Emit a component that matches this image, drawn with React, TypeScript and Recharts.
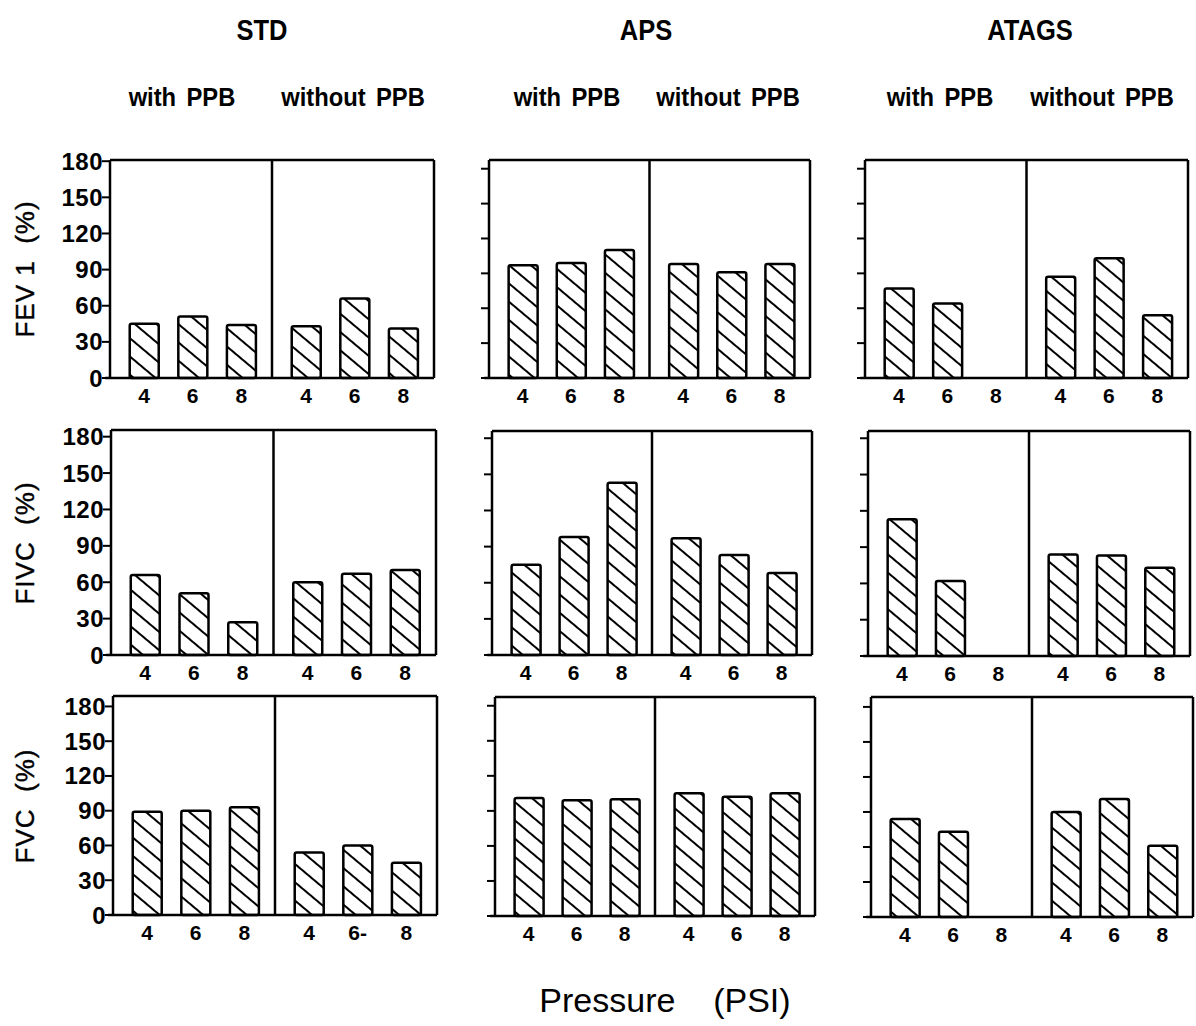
import React from "react";
import { BarChart, Bar, XAxis, YAxis, ReferenceLine } from "recharts";

// ---------- data ----------
const systems = ["STD", "APS", "ATAGS"];
const conditions = ["with PPB", "without PPB"];
const measures = ["FEV 1  (%)", "FIVC  (%)", "FVC  (%)"];
const pressures = ["4", "6", "8"];
const yTicks = [0, 30, 60, 90, 120, 150, 180];
const xTitle = "Pressure    (PSI)";

// values: [with PPB 4, 6, 8, without PPB 4, 6, 8]
const stdFev1 = [45, 51, 44, 43, 66, 41];
const apsFev1 = [97, 99, 110, 98, 91, 98];
const atagsFev1 = [77, 64, null, 87, 103, 54];

const stdFivc = [66, 51, 27, 60, 67, 70];
const apsFivc = [75, 98, 143, 97, 83, 68];
const atagsFivc = [113, 62, null, 84, 83, 73];

const stdFvc = [89, 90, 93, 54, 60, 45];
const apsFvc = [101, 99, 100, 105, 102, 105];
const atagsFvc = [84, 73, null, 90, 101, 61];

const defaultTickLabels = [...pressures, ...pressures];
const stdFvcTickLabels = ["4", "6", "8", "4", "6-", "8"];

// ---------- layout ----------
const FONT = "'Liberation Sans', Arial, Helvetica, sans-serif";

const panelValues = [
  [stdFev1, apsFev1, atagsFev1],
  [stdFivc, apsFivc, atagsFivc],
  [stdFvc, apsFvc, atagsFvc],
];
const panelTickLabels = [
  [defaultTickLabels, defaultTickLabels, defaultTickLabels],
  [defaultTickLabels, defaultTickLabels, defaultTickLabels],
  [stdFvcTickLabels, defaultTickLabels, defaultTickLabels],
];
// per panel frame geometry: [left, top, width, height, yMax]
const frames = [
  [[110, 160, 324, 218, 181], [489, 160, 321, 218, 187.5], [865, 160, 323, 218, 187.5]],
  [[111, 430, 325, 225, 185.5], [492, 431, 320, 224, 186], [868, 431, 322, 225, 186]],
  [[113, 696, 324, 219, 189], [495, 697, 320, 219, 187.5], [871, 697, 322, 220, 188.5]],
];
const headerX = [262, 646, 1030];
const subHeaderX = [
  [182, 353],
  [567, 728],
  [940, 1102],
];

const Y_AXIS_W = 70;
const X_AXIS_H = 36;
const M = { top: 16, right: 6, bottom: 0, left: 0 };

type PanelProps = {
  values: (number | null)[];
  tickLabels: string[];
  frame: number[];
  showYLabels: boolean;
  id: string;
};

function Panel({ values, tickLabels, frame, showYLabels, id }: PanelProps) {
  const [left, top, width, height, yMax] = frame;
  const chartW = Y_AXIS_W + width + M.right;
  const chartH = M.top + height + X_AXIS_H;
  const data = values.map((v, i) => ({
    x: Math.floor(i / 3) * 10 + 2.1 + (i % 3) * 3,
    v,
  }));
  const xTicks = data.map((d) => d.x);

  const YTick = (props: any) =>
    showYLabels ? (
      <text
        x={props.x + 3}
        y={props.y}
        textAnchor="end"
        dominantBaseline="central"
        fontSize={24}
        fontWeight={700}
        fontFamily={FONT}
        letterSpacing={0.5}
        fill="#000"
      >
        {props.payload.value}
      </text>
    ) : (
      <g />
    );

  const XTick = (props: any) => {
    const idx = xTicks.indexOf(props.payload.value);
    return (
      <text
        x={props.x}
        y={props.y}
        textAnchor="middle"
        dominantBaseline="hanging"
        fontSize={21}
        fontWeight={700}
        fontFamily={FONT}
        fill="#000"
      >
        {tickLabels[idx]}
      </text>
    );
  };

  return (
    <div style={{ position: "absolute", left: left - Y_AXIS_W, top: top - M.top }}>
      <BarChart width={chartW} height={chartH} data={data} margin={M}>
        <defs>
          <pattern
            id={id}
            patternUnits="userSpaceOnUse"
            width={10}
            height={14}
            patternTransform="rotate(40)"
          >
            <rect width={10} height={14} fill="#fff" />
            <line x1={0} y1={7} x2={10} y2={7} stroke="#000" strokeWidth={2} />
          </pattern>
        </defs>
        <XAxis
          dataKey="x"
          type="number"
          domain={[0, 20]}
          ticks={xTicks}
          interval={0}
          height={X_AXIS_H}
          tickSize={0}
          tickMargin={10}
          tickLine={false}
          axisLine={{ stroke: "#000", strokeWidth: 2.5 }}
          tick={XTick}
        />
        <YAxis
          type="number"
          domain={[0, yMax]}
          ticks={yTicks}
          interval={0}
          width={Y_AXIS_W}
          tickSize={8}
          tickMargin={2}
          tickLine={{ stroke: "#000", strokeWidth: 2 }}
          axisLine={{ stroke: "#000", strokeWidth: 2.5 }}
          tick={YTick}
        />
        <ReferenceLine x={10} stroke="#000" strokeWidth={2.5} />
        <ReferenceLine x={20} stroke="#000" strokeWidth={2.5} />
        <ReferenceLine y={yMax} stroke="#000" strokeWidth={2.5} />
        <ReferenceLine
          segment={[
            { x: -0.3, y: 0 },
            { x: 0, y: 0 },
          ]}
          ifOverflow="visible"
          stroke="#000"
          strokeWidth={2.5}
        />
        <Bar
          dataKey="v"
          barSize={29}
          fill={`url(#${id})`}
          stroke="#000"
          strokeWidth={2.5}
          radius={2}
          isAnimationActive={false}
        />
      </BarChart>
    </div>
  );
}

const centered = (x: number, y: number, extra: React.CSSProperties = {}): React.CSSProperties => ({
  position: "absolute",
  left: x,
  top: y,
  transform: "translate(-50%, -50%)",
  whiteSpace: "pre",
  lineHeight: 1,
  color: "#000",
  ...extra,
});

export default function App() {
  return (
    <div
      style={{
        position: "absolute",
        left: 0,
        top: 0,
        width: 1196,
        height: 1026,
        background: "#fff",
        overflow: "hidden",
        fontFamily: FONT,
      }}
    >
      {systems.map((s, c) => (
        <div key={s} style={centered(headerX[c], 30, { fontSize: 29, fontWeight: 700, transform: "translate(-50%, -50%) scaleX(0.88)" })}>
          {s}
        </div>
      ))}
      {systems.map((s, c) =>
        conditions.map((cond, k) => (
          <div
            key={s + cond}
            style={centered(subHeaderX[c][k], 97, {
              fontSize: 25,
              fontWeight: 700,
              wordSpacing: 4,
              transform: "translate(-50%, -50%) scaleX(0.95)",
            })}
          >
            {cond}
          </div>
        ))
      )}
      {measures.map((m, r) => {
        const f = frames[r][0];
        return (
          <div
            key={m}
            style={centered(25, f[1] + f[3] / 2, {
              fontSize: 26,
              letterSpacing: 1,
              WebkitTextStroke: "0.4px #000",
              transform: "translate(-50%, -50%) rotate(-90deg)",
            })}
          >
            {m}
          </div>
        );
      })}
      {panelValues.map((row, r) =>
        row.map((vals, c) => (
          <Panel
            key={`${r}-${c}`}
            id={`hatch-${r}-${c}`}
            values={vals}
            tickLabels={panelTickLabels[r][c]}
            frame={frames[r][c]}
            showYLabels={c === 0}
          />
        ))
      )}
      <div style={centered(665, 1000, { fontSize: 34 })}>{xTitle}</div>
    </div>
  );
}
